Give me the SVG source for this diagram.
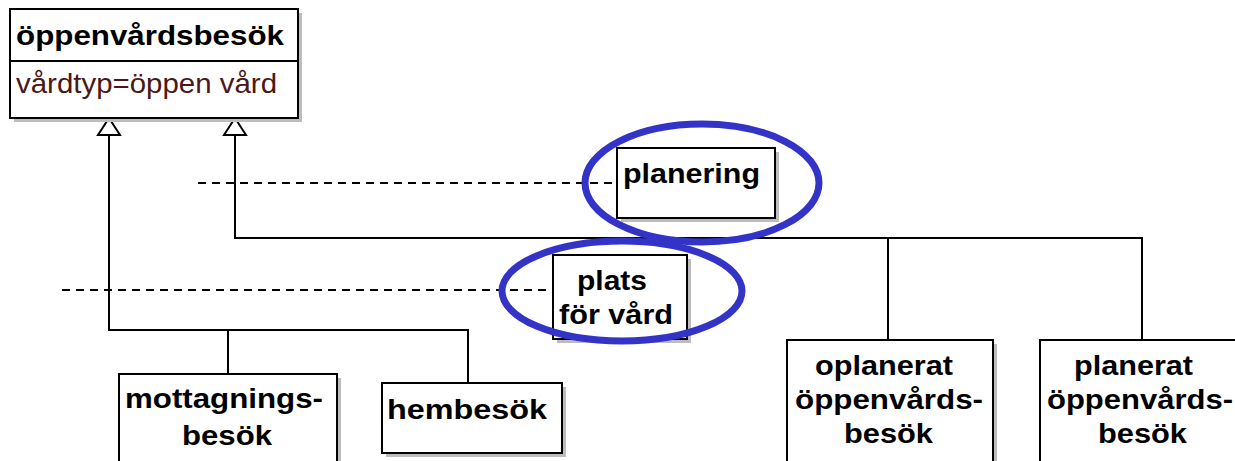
<svg xmlns="http://www.w3.org/2000/svg" width="1235" height="461" viewBox="0 0 1235 461">
<style>
.box{fill:#fff;stroke:#000;stroke-width:2}
.sh{fill:#bdbdbd}
.t{font-family:"Liberation Sans",Arial,sans-serif;font-weight:bold;font-size:28px;fill:#000}
.a{font-family:"Liberation Sans",Arial,sans-serif;font-size:28px;fill:#4a1818}
.ln{fill:none;stroke:#000;stroke-width:2}
.dash{fill:none;stroke:#000;stroke-width:2;stroke-dasharray:8 6}
.hl{fill:none;stroke:#3333c8;stroke-width:7}
.tri{fill:#fff;stroke:#000;stroke-width:2}
</style>
<rect width="1235" height="461" fill="#fff"/>
<g id="connectors">
<path class="ln" d="M109,135 V330 H468 V383 M228,330 V374"/>
<path class="ln" d="M235,135 V238 H1142 V340 M888,238 V340"/>
<path class="dash" d="M198,183 H617"/>
<path class="dash" d="M62,290 H553"/>
<polygon class="tri" points="109,118 98,135 120,135"/>
<polygon class="tri" points="235,118 224,135 246,135"/>
</g>
<g id="oppenvardsbesok">
<rect class="sh" x="14" y="13" width="288" height="109"/>
<rect class="box" x="10" y="9" width="288" height="109"/>
<line class="ln" x1="10" y1="61" x2="298" y2="61"/>
<text class="t" x="16" y="45" textLength="268" lengthAdjust="spacingAndGlyphs">öppenvårdsbesök</text>
<text class="a" x="16" y="93" textLength="261" lengthAdjust="spacingAndGlyphs">vårdtyp=öppen vård</text>
</g>
<g id="planering">
<rect class="sh" x="621" y="152" width="158" height="70"/>
<rect class="box" x="617" y="148" width="158" height="70"/>
<text class="t" x="623" y="183" textLength="137" lengthAdjust="spacingAndGlyphs">planering</text>
</g>
<g id="plats">
<rect class="sh" x="557" y="259" width="134" height="84"/>
<rect class="box" x="553" y="255" width="134" height="84"/>
<text class="t" x="577" y="290" textLength="70" lengthAdjust="spacingAndGlyphs">plats</text>
<text class="t" x="559" y="324" textLength="114" lengthAdjust="spacingAndGlyphs">för vård</text>
</g>
<g id="mottagningsbesok">
<rect class="sh" x="123" y="378" width="218" height="90"/>
<rect class="box" x="119" y="374" width="218" height="90"/>
<text class="t" x="125" y="408" textLength="198" lengthAdjust="spacingAndGlyphs">mottagnings-</text>
<text class="t" x="182" y="445" textLength="90" lengthAdjust="spacingAndGlyphs">besök</text>
</g>
<g id="hembesok">
<rect class="sh" x="386" y="387" width="180" height="70"/>
<rect class="box" x="382" y="383" width="180" height="70"/>
<text class="t" x="387" y="419" textLength="160" lengthAdjust="spacingAndGlyphs">hembesök</text>
</g>
<g id="oplanerat">
<rect class="sh" x="791" y="344" width="206" height="124"/>
<rect class="box" x="787" y="340" width="206" height="124"/>
<text class="t" x="815" y="375" textLength="138" lengthAdjust="spacingAndGlyphs">oplanerat</text>
<text class="t" x="795" y="409" textLength="188" lengthAdjust="spacingAndGlyphs">öppenvårds-</text>
<text class="t" x="844" y="443" textLength="89" lengthAdjust="spacingAndGlyphs">besök</text>
</g>
<g id="planerat">
<rect class="sh" x="1044" y="344" width="200" height="124"/>
<rect class="box" x="1040" y="340" width="200" height="124"/>
<text class="t" x="1074" y="375" textLength="119" lengthAdjust="spacingAndGlyphs">planerat</text>
<text class="t" x="1047" y="409" textLength="186" lengthAdjust="spacingAndGlyphs">öppenvårds-</text>
<text class="t" x="1098" y="443" textLength="89" lengthAdjust="spacingAndGlyphs">besök</text>
</g>
<g id="highlights">
<ellipse class="hl" cx="702" cy="183" rx="117" ry="59"/>
<ellipse class="hl" cx="622" cy="291" rx="120" ry="50"/>
</g>
</svg>
